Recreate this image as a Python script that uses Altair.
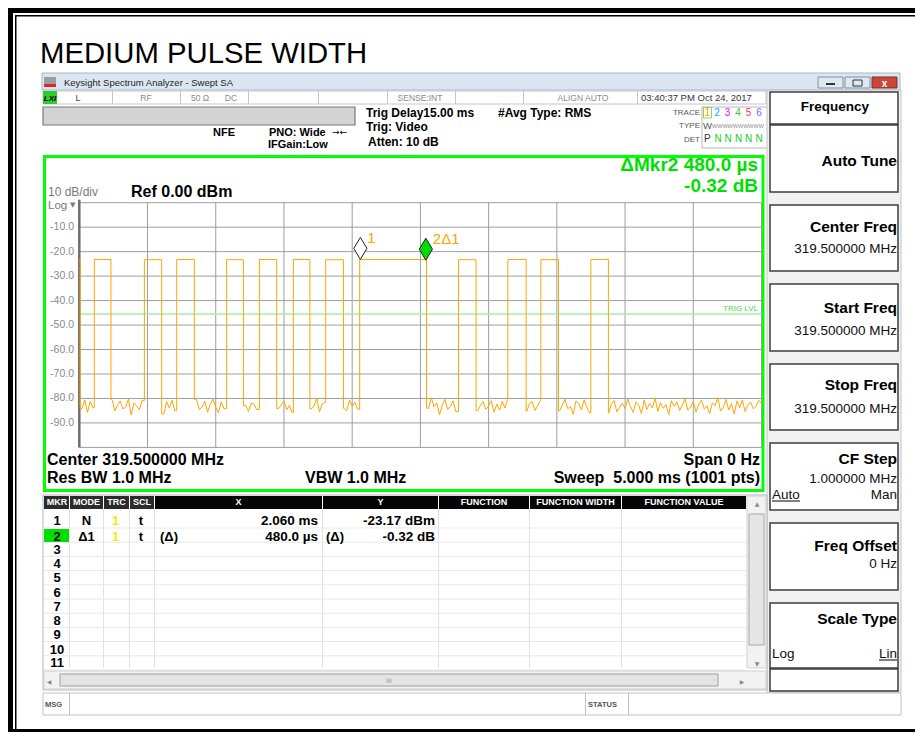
import altair as alt
import pandas as pd

# ---------------- chart values ----------------
sweep_ms = [0.0, 5.0]            # Span 0 Hz, Sweep 5.000 ms
level_db = [-100.0, 0.0]         # Ref 0.00 dBm, 10 dB/div
grid_db = [0, -10, -20, -30, -40, -50, -60, -70, -80, -90, -100]
grid_ms = [0.0, 0.5, 1.0, 1.5, 2.0, 2.5, 3.0, 3.5, 4.0, 4.5, 5.0]
tick_db = [-10, -20, -30, -40, -50, -60, -70, -80, -90]
tick_labels = ["-10.0", "-20.0", "-30.0", "-40.0", "-50.0", "-60.0", "-70.0", "-80.0", "-90.0"]

pulse_start_ms = [0.000, 0.110, 0.477, 0.714, 1.080, 1.320, 1.569, 1.806, 2.055, 2.779, 3.141, 3.383, 3.749]
pulse_end_ms = [0.006, 0.232, 0.604, 0.843, 1.203, 1.447, 1.690, 1.936, 2.545, 2.908, 3.275, 3.512, 3.878]
pulse_level_db = [-23.3, -23.2, -23.3, -23.2, -23.3, -23.2, -23.2, -23.3, -23.2, -23.3, -23.2, -23.3, -23.2]

noise_step_ms = 0.02
noise_db = [
    -82.5, -84.1, -80.6, -85.7, -81.2, -83.8, -86.0, -80.9, -83.1, -81.7, -84.9, -82.0, -80.4,
    -85.1, -82.8, -81.0, -84.3, -83.5, -80.2, -86.8, -81.9, -83.0, -84.6, -80.8, -82.2,
    -85.4, -81.5, -83.7, -80.1, -84.0, -82.6, -86.3, -81.3, -83.9, -80.7, -85.0, -82.1, -84.4,
    -79.8, -83.3, -81.8, -86.5, -82.9, -80.5, -84.7, -83.4, -81.1, -85.6, -82.4, -80.3,
    -83.6, -85.9, -81.4, -84.2, -80.0, -82.7, -86.1, -83.2, -81.6, -84.8, -79.6, -83.0, -85.3,
    -81.9, -82.3, -84.5, -80.6, -86.6, -82.0, -83.8, -81.2, -85.2, -80.9, -84.1, -82.6,
    -81.0, -84.6, -82.8, -85.8, -80.4, -83.5, -81.7, -86.2, -82.5, -80.8, -84.3, -83.1, -79.9,
    -85.5, -82.2, -81.5, -84.9, -83.7, -80.2, -86.4, -82.9, -81.3, -84.0, -85.1, -80.7,
    -83.3, -81.6, -84.4, -82.0, -85.0, -80.5, -83.9, -82.6, -81.1, -84.7, -80.3, -85.6, -82.4,
    -83.0, -81.8, -86.0, -80.9, -84.2, -82.7, -83.6, -81.4, -85.3, -80.1, -84.8, -82.3,
    -80.6, -85.8, -82.1, -84.0, -79.7, -83.4, -81.9, -86.7, -82.8, -80.4, -84.6, -83.2, -81.0,
    -85.4, -82.5, -80.8, -84.1, -86.3, -81.5, -83.7, -80.2, -85.0, -82.9, -81.3, -84.5,
    -83.1, -80.9, -85.7, -82.3, -84.8, -81.2, -83.9, -80.0, -86.1, -82.6, -81.7, -84.3, -83.5,
    -79.9, -85.2, -82.0, -81.4, -84.9, -83.0, -80.7, -86.4, -82.4, -81.1, -84.6, -83.8,
    -81.6, -85.1, -82.7, -80.3, -84.2, -83.3, -86.5, -81.0, -82.1, -84.7, -80.5, -83.6, -85.9,
    -81.8, -82.9, -79.5, -84.4, -83.1, -81.3, -86.0, -82.2, -80.8, -85.5, -83.7, -81.9,
    -84.1, -80.2, -83.4, -85.7, -81.5, -82.8, -86.2, -80.6, -84.5, -82.0, -83.9, -79.8, -85.3,
    -81.7, -84.0, -82.5, -86.6, -80.9, -83.2, -81.4, -85.0, -82.7, -80.1, -84.8, -83.5,
    -81.2, -85.6, -82.4, -80.7, -84.3, -83.0, -86.1, -81.8, -82.9, -79.7, -85.2, -83.6, -80.4,
    -84.7, -82.1, -86.4, -81.0, -83.8, -80.6, -85.4, -82.6, -81.5, -84.2, -83.3, -80.8, -82.0,
]
trig_level_db = [-45.5]
trig_label = ["TRIG LVL"]

marker_ms = [2.060, 2.540]
marker_db = [-23.17, -23.49]
marker_label = ["1", "2\u03941"]

# ---------------- layout / style ----------------
OFF = 8                       # page margin: page coords -> chart coords
X0, X1 = 79.3, 761.5          # graticule left / right (page px)
Y0, Y1 = 202.7, 447.4         # graticule top (0 dB) / bottom (-100 dB)
LS = "Liberation Sans, Arial, sans-serif"
DJ = "DejaVu Sans, sans-serif"
TRACE_COL = "#FFA500"
marker_fill_by_label = {"1": "#ffffff", "2\u03941": "#00dd00"}

xs = alt.Scale(domain=sweep_ms, range=[X0 - OFF, X1 - OFF], nice=False, zero=False)
ys = alt.Scale(domain=level_db, range=[Y1 - OFF, Y0 - OFF], nice=False, zero=False)

# ---------------- trace table built from the arrays ----------------
noise_t = [round(k * noise_step_ms, 4) for k in range(len(noise_db))]


def in_pulse(t):
    return any(s <= t <= e for s, e in zip(pulse_start_ms, pulse_end_ms))


pts = []
pi = 0
for t, v in zip(noise_t, noise_db):
    while pi < len(pulse_start_ms) and pulse_start_ms[pi] <= t:
        s, e, L = pulse_start_ms[pi], pulse_end_ms[pi], pulse_level_db[pi]
        if pts:
            pts.append((s, pts[-1][1]))
        pts.append((s, L))
        pts.append((e, L))
        after = [nv for nt, nv in zip(noise_t, noise_db) if nt > e]
        pts.append((e, after[0]))
        pi += 1
    if not in_pulse(t):
        pts.append((t, v))
trace_df = pd.DataFrame({"i": range(len(pts)), "t": [p[0] for p in pts], "v": [p[1] for p in pts]})


# ---------------- helpers for the instrument chrome ----------------
def R(x1, y1, x2, y2, fill, stroke="transparent", sw=0):
    return {"rx": max(x1 - OFF, 0), "rx2": max(x2 - OFF, 0), "ry": max(y1 - OFF, 0),
            "ry2": max(y2 - OFF, 0), "fill": fill, "stroke": stroke, "sw": sw}


def rect_layer(rows):
    return alt.Chart(pd.DataFrame(rows)).mark_rect().encode(
        x=alt.X("rx:Q", scale=None, axis=None), x2="rx2:Q",
        y=alt.Y("ry:Q", scale=None, axis=None), y2="ry2:Q",
        fill=alt.Fill("fill:N", scale=None, legend=None),
        stroke=alt.Stroke("stroke:N", scale=None, legend=None),
        strokeWidth=alt.StrokeWidth("sw:Q", scale=None, legend=None),
    )


def text_layer(rows, font=LS, weight="normal", align="left", style="normal"):
    df = pd.DataFrame(rows, columns=["tx", "ty", "label", "fs", "col"])
    df["tx"] = df["tx"] - OFF
    df["ty"] = df["ty"] - OFF
    return alt.Chart(df).mark_text(font=font, fontWeight=weight, align=align,
                                   baseline="alphabetic", fontStyle=style).encode(
        x=alt.X("tx:Q", scale=None, axis=None), y=alt.Y("ty:Q", scale=None, axis=None),
        text="label:N",
        size=alt.Size("fs:Q", scale=None, legend=None),
        color=alt.Color("col:N", scale=None, legend=None),
    )


chrome = [
    # screenshot border
    R(8, 8, 923, 13, "#000000"), R(8, 8, 13, 732, "#000000"),
    R(15, 15, 923, 16.5, "#000000"), R(15, 15, 16.5, 732, "#000000"),
    R(8, 729, 923, 732, "#000000"),
    # window title bar
    R(42, 73, 900, 90, "#dbe6f2", "#a7b6c8", 1),
    R(44, 77, 56, 84, "#9d9d9d"), R(44, 84, 56, 87, "#e02525"),
    R(818, 77, 843, 88, "#dfe7f1", "#7f90a6", 1),
    R(845, 77, 870, 88, "#dfe7f1", "#7f90a6", 1),
    R(872, 77, 897, 88, "#c8473b", "#8a2b22", 1),
    R(826, 83, 835, 85, "#333333"),
    R(853, 80, 862, 86, "transparent", "#333333", 1),
    # status row
    R(43, 91, 766, 104, "#ffffff", "#c6c6c6", 1),
    R(43, 91, 57, 104, "#2ecc2e"),
]
for dx in [112, 180, 248, 318, 387, 455, 523, 637]:
    chrome.append(R(dx, 91, dx + 1, 104, "#c6c6c6"))
chrome += [
    R(43, 107, 355, 125, "#d3d3d3", "#7a7a7a", 1.2),
    R(702, 107, 768, 148, "#ffffff", "#b8b8b8", 1),
    R(703.5, 107.5, 711.5, 118, "transparent", "#9ccc50", 1),
    # measurement frame
    R(44.5, 156.5, 763, 490.5, "#ffffff", "#00ff00", 3),
    # softkey panel
    R(767, 90, 901, 692, "#f1f1f1", "#c4c4c4", 1),
]
for y1, y2 in [(92, 124), (125, 192), (205, 271), (284, 351), (364, 430),
               (443, 510), (523, 590), (603, 668), (669, 691)]:
    chrome.append(R(770, y1, 898, y2, "#ffffff", "#3c3c3c", 1.5))
chrome += [R(772, 500.5, 800, 501.5, "#000000"), R(879, 659.5, 897, 660.5, "#000000")]
# marker table
chrome.append(R(43, 495, 767, 690, "#ffffff", "#b5b5b5", 1))
cols = [(44, 69), (70, 103), (104, 129), (130, 154), (155, 322), (323, 438), (439, 529), (530, 621), (622, 746)]
for k, (c1, c2) in enumerate(cols):
    chrome.append(R(c1, 496, c2, 509, "#2b2b2b" if k < 4 else "#050505"))
for c1, c2 in cols[:-1]:
    chrome.append(R(c2, 509, c2 + 1, 668, "#e2e2e2"))
for k in range(11):
    yy = 527.5 + 14.2 * k
    chrome.append(R(44, yy, 746, yy + 1, "#e8e8e8"))
chrome += [
    R(44, 529, 69, 542, "#00e000"),
    R(747, 496, 766, 668, "#f2f2f2", "#d0d0d0", 1),
    R(749, 514, 764, 645, "#e6e6e6", "#a8a8a8", 1),
    R(44, 671, 766, 689, "#f2f2f2", "#d0d0d0", 1),
    R(60, 674, 718, 686, "#e4e4e4", "#a0a0a0", 1),
    # message row
    R(43, 693, 901, 715, "#ffffff", "#c2c2c2", 1),
    R(69, 693, 70, 715, "#c2c2c2"), R(585, 693, 586, 715, "#c2c2c2"), R(628, 693, 629, 715, "#c2c2c2"),
]

# ---------------- plot layers ----------------
hgrid = alt.Chart(pd.DataFrame({"gdb": grid_db})).mark_rule(color="#9e9e9e", strokeWidth=1).encode(
    y=alt.Y("gdb:Q", scale=ys, axis=None), x=alt.value(X0 - OFF), x2=alt.value(X1 - OFF))
vgrid = alt.Chart(pd.DataFrame({"gms": grid_ms})).mark_rule(color="#9e9e9e", strokeWidth=1).encode(
    x=alt.X("gms:Q", scale=xs, axis=None), y=alt.value(Y0 - OFF), y2=alt.value(Y1 - OFF))
laxis = alt.Chart(pd.DataFrame({"ax": [sweep_ms[0]]})).mark_rule(color="#6e6e6e", strokeWidth=2.5).encode(
    x=alt.X("ax:Q", scale=xs, axis=None), y=alt.value(Y0 - OFF - 3), y2=alt.value(Y1 - OFF))
ylabels = alt.Chart(pd.DataFrame({"tdb": tick_db, "tl": tick_labels})).mark_text(
    align="right", baseline="middle", font=LS, fontSize=10.5, color="#8a8a8a").encode(
    y=alt.Y("tdb:Q", scale=ys, axis=None), x=alt.value(74 - OFF), text="tl:N")
trig_df = pd.DataFrame({"trig": trig_level_db, "tlab": trig_label})
trig = alt.Chart(trig_df).mark_rule(color="#a4f0a4", strokeWidth=1.5).encode(
    y=alt.Y("trig:Q", scale=ys, axis=None), x=alt.value(X0 - OFF), x2=alt.value(X1 - OFF))
trig_txt = alt.Chart(trig_df).mark_text(align="right", baseline="alphabetic", dy=-3, font=LS,
                                        fontSize=8, color="#3fd83f").encode(
    y=alt.Y("trig:Q", scale=ys, axis=None), x=alt.value(758 - OFF), text="tlab:N")
trace = alt.Chart(trace_df).mark_line(color=TRACE_COL, strokeWidth=1).encode(
    x=alt.X("t:Q", scale=xs, axis=None), y=alt.Y("v:Q", scale=ys, axis=None), order="i:Q")
mk_df = pd.DataFrame({"mt": marker_ms, "mv": marker_db, "ml": marker_label,
                      "mf": [marker_fill_by_label[m] for m in marker_label]})
markers = alt.Chart(mk_df).mark_point(shape="M0,0L0.6,-1L0,-2L-0.6,-1Z", size=484, filled=True,
                                      opacity=1, stroke="#222222", strokeWidth=1).encode(
    x=alt.X("mt:Q", scale=xs, axis=None), y=alt.Y("mv:Q", scale=ys, axis=None),
    fill=alt.Fill("mf:N", scale=None, legend=None))
mk_txt = alt.Chart(mk_df).mark_text(align="left", baseline="alphabetic", dx=7, dy=-16, font=LS,
                                    fontSize=15, color=TRACE_COL).encode(
    x=alt.X("mt:Q", scale=xs, axis=None), y=alt.Y("mv:Q", scale=ys, axis=None), text="ml:N")

# ---------------- texts ----------------
t_title = text_layer([(40, 63, "MEDIUM PULSE WIDTH", 29.3, "#000000")])
t_win = text_layer([(64, 86, "Keysight Spectrum Analyzer - Swept SA", 9.5, "#1e1e1e")])
t_close = text_layer([(884.5, 86.5, "x", 10, "#ffffff")], weight="bold", align="center")
t_status = text_layer([
    (78, 101, "L", 9, "#444444"), (146, 101, "RF", 8.5, "#8a8a8a"), (200, 101, "50 \u03a9", 8.5, "#8a8a8a"),
    (231, 101, "DC", 8.5, "#8a8a8a"), (420, 101, "SENSE:INT", 8.5, "#8a8a8a"),
    (583, 101, "ALIGN AUTO", 8.5, "#8a8a8a")], align="center")
t_lxi = text_layer([(50, 101, "LXI", 8, "#000000")], weight="bold", align="center", style="italic")
t_date = text_layer([(641, 101, "03:40:37 PM Oct 24, 2017", 9.5, "#333333")])
t_hdr = text_layer([
    (366, 117, "Trig Delay15.00 ms", 12, "#000000"), (366, 131, "Trig: Video", 12, "#000000"),
    (368, 146, "Atten: 10 dB", 12, "#000000"), (498, 117, "#Avg Type: RMS", 12, "#000000"),
    (213, 136, "NFE", 11, "#000000"), (269, 136, "PNO: Wide", 11, "#000000"),
    (268, 148, "IFGain:Low", 11, "#000000")], weight="bold")
t_arrow = text_layer([(332, 135, "\u2192\u2190", 9, "#000000")], font=DJ)
t_trlab = text_layer([(700, 115, "TRACE", 8, "#555555"), (700, 128, "TYPE", 8, "#555555"),
                      (700, 142, "DET", 8, "#555555")], align="right")
t_trnum = text_layer([
    (707.5, 116, "1", 10, "#FFA500"), (717, 116, "2", 10, "#00B4FF"), (727.5, 116, "3", 10, "#FF00FF"),
    (738, 116, "4", 10, "#33CC33"), (748.5, 116, "5", 10, "#FF3366"), (759, 116, "6", 10, "#7B61FF"),
    (718, 142, "N", 10, "#22cc22"), (728, 142, "N", 10, "#22cc22"), (738.5, 142, "N", 10, "#22cc22"),
    (748.5, 142, "N", 10, "#22cc22"), (759, 142, "N", 10, "#22cc22")], align="center")
t_type = text_layer([(703, 129, "W", 9.5, "#555555"), (712, 128, "WWWWWWWWWW", 5.5, "#8a8a8a"),
                     (704, 142, "P", 10, "#333333")])
t_mkr = text_layer([(758, 171, "\u0394Mkr2 480.0 \u00b5s", 19, "#00e000"),
                    (758, 192, "-0.32 dB", 19, "#00e000")], weight="bold", align="right")
t_scale = text_layer([(48, 195.5, "10 dB/div", 12, "#7a7a7a"), (48, 209, "Log", 11.5, "#7a7a7a")])
t_tri = text_layer([(70, 207, "\u25bc", 7, "#7a7a7a")], font=DJ)
t_ref = text_layer([(131, 197, "Ref 0.00 dBm", 16, "#000000"),
                    (47, 465, "Center 319.500000 MHz", 16, "#000000"),
                    (47, 483, "Res BW 1.0 MHz", 16, "#000000"),
                    (305, 483, "VBW 1.0 MHz", 16, "#000000")], weight="bold")
t_bot_r = text_layer([(760, 465, "Span 0 Hz", 16, "#000000"),
                      (760, 483, "Sweep\u00a0 5.000 ms (1001 pts)", 16, "#000000")],
                     weight="bold", align="right")
t_soft = text_layer([
    (897, 166, "Auto Tune", 15.5, "#000000"), (897, 232, "Center Freq", 15.5, "#000000"),
    (897, 313, "Start Freq", 15.5, "#000000"), (897, 390, "Stop Freq", 15.5, "#000000"),
    (897, 464, "CF Step", 15.5, "#000000"), (897, 551, "Freq Offset", 15.5, "#000000"),
    (897, 624, "Scale Type", 15.5, "#000000")], weight="bold", align="right")
t_freq = text_layer([(835, 111, "Frequency", 13.5, "#000000")], weight="bold", align="center")
t_vals = text_layer([
    (897, 253, "319.500000 MHz", 13.5, "#111111"), (897, 335, "319.500000 MHz", 13.5, "#111111"),
    (897, 413, "319.500000 MHz", 13.5, "#111111"), (897, 483, "1.000000 MHz", 13.5, "#111111"),
    (897, 499, "Man", 13.5, "#111111"), (897, 568, "0 Hz", 13.5, "#111111"),
    (897, 658, "Lin", 13.5, "#111111")], align="right")
t_vals_l = text_layer([(772, 499, "Auto", 13.5, "#111111"), (772, 658, "Log", 13.5, "#111111")])
t_thead = text_layer([
    (57, 505, "MKR", 9, "#ffffff"), (86.5, 505, "MODE", 9, "#ffffff"), (116.5, 505, "TRC", 9, "#ffffff"),
    (142, 505, "SCL", 9, "#ffffff"), (238.5, 505, "X", 9, "#ffffff"), (380.5, 505, "Y", 9, "#ffffff"),
    (484, 505, "FUNCTION", 9, "#ffffff"), (575.5, 505, "FUNCTION WIDTH", 9, "#ffffff"),
    (684, 505, "FUNCTION VALUE", 9, "#ffffff")], weight="bold", align="center")
row_base = [525, 540.5, 554, 568, 582, 596.5, 610.5, 624.5, 639, 653.5, 667]
rows_num = [(57, b, str(k + 1), 13, "#000000") for k, b in enumerate(row_base)]
rows_num += [(86.5, 525, "N", 13, "#000000"), (115.5, 525, "1", 13, "#ffe600"), (141, 525, "t", 13, "#000000"),
             (86.5, 540.5, "\u03941", 13, "#000000"), (115.5, 540.5, "1", 13, "#ffe600"),
             (141, 540.5, "t", 13, "#000000")]
t_rows = text_layer(rows_num, weight="bold", align="center")
t_rows_l = text_layer([(160, 540.5, "(\u0394)", 13, "#000000"), (326, 540.5, "(\u0394)", 13, "#000000")],
                      weight="bold")
t_rows_r = text_layer([(318, 525, "2.060 ms", 13.5, "#000000"), (435, 525, "-23.17 dBm", 13.5, "#000000"),
                       (318, 540.5, "480.0 \u00b5s", 13.5, "#000000"), (435, 540.5, "-0.32 dB", 13.5, "#000000")],
                      weight="bold", align="right")
t_misc = text_layer([(45, 707, "MSG", 7.5, "#555555"), (588, 707, "STATUS", 7.5, "#555555")], weight="bold")
t_scroll = text_layer([(389, 683, "III", 6, "#888888"), (757, 506, "\u25b2", 6, "#888888"),
                       (757, 666, "\u25bc", 6, "#888888"), (49, 684, "\u25c0", 6, "#888888"),
                       (742, 684, "\u25b6", 6, "#888888")], font=DJ, align="center")

chart = alt.layer(
    rect_layer(chrome), hgrid, vgrid, trig, laxis, trace, markers, mk_txt, trig_txt, ylabels,
    t_title, t_win, t_close, t_status, t_lxi, t_date, t_hdr, t_arrow, t_trlab, t_trnum, t_type,
    t_mkr, t_scale, t_tri, t_ref, t_bot_r, t_soft, t_freq, t_vals, t_vals_l, t_thead, t_rows,
    t_rows_l, t_rows_r, t_misc, t_scroll,
).resolve_scale(
    x="independent", y="independent", color="independent", fill="independent",
    stroke="independent", size="independent", strokeWidth="independent",
).properties(
    width=907, height=724, autosize=alt.AutoSizeParams(type="none"), padding=0,
    background="#ffffff",
).configure_view(stroke=None)

chart.save("out.html", embed_options={"renderer": "svg", "actions": False})
